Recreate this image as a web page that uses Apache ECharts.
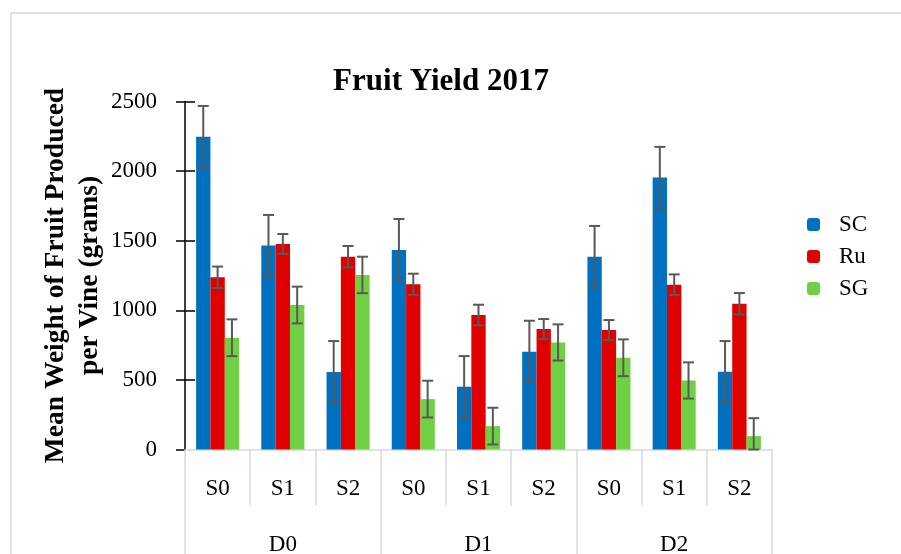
<!DOCTYPE html>
<html>
<head>
<meta charset="utf-8">
<script src="https://cdn.jsdelivr.net/npm/echarts@6/dist/echarts.min.js"></script>
<style>
  html, body { margin: 0; padding: 0; background: #fff; }
  #chart { width: 901px; height: 554px; }
</style>
</head>
<body>
<div id="chart"></div>
<script>
const subCategories = ["S0", "S1", "S2", "S0", "S1", "S2", "S0", "S1", "S2"];
const groups = ["D0", "D1", "D2"];
const seriesNames = ["SC", "Ru", "SG"];
const scValues = [2246, 1465, 556, 1433, 451, 702, 1385, 1954, 558];
const ruValues = [1237, 1477, 1385, 1187, 966, 865, 858, 1184, 1047];
const sgValues = [803, 1038, 1254, 362, 168, 769, 659, 496, 96];
const scErrors = [222, 220, 223, 223, 220, 223, 221, 220, 221];
const ruErrors = [77, 71, 77, 76, 74, 72, 72, 74, 77];
const sgErrors = [132, 132, 131, 132, 132, 130, 132, 130, 129];
const yTicks = [0, 500, 1000, 1500, 2000, 2500];

const colors = ["#0070C0", "#E00000", "#70D044"];
const values = [scValues, ruValues, sgValues];
const errors = [scErrors, ruErrors, sgErrors];
const font = "Liberation Serif";
const catGap = 0.34;

const chart = echarts.init(document.getElementById("chart"));

function errorSeries(idx) {
  return {
    type: "custom",
    xAxisIndex: 0,
    yAxisIndex: 0,
    z: 5,
    silent: true,
    data: values[idx].map((v, i) => [i, v, errors[idx][i]]),
    renderItem: (params, api) => {
      const i = api.value(0);
      const v = api.value(1);
      const e = api.value(2);
      const band = api.size([1, 0])[0];
      const barW = (band * (1 - catGap)) / 3;
      const c = api.coord([i, v]);
      const x = c[0] + (idx - 1) * barW;
      const top = api.coord([i, v + e])[1];
      const bot = api.coord([i, Math.max(v - e, 0)])[1];
      const style = { stroke: "#595959", lineWidth: 2 };
      const cap = 5.5;
      return {
        type: "group",
        children: [
          { type: "line", shape: { x1: x, y1: top, x2: x, y2: bot }, style },
          { type: "line", shape: { x1: x - cap, y1: top, x2: x + cap, y2: top }, style },
          { type: "line", shape: { x1: x - cap, y1: bot, x2: x + cap, y2: bot }, style },
        ],
      };
    },
  };
}

chart.setOption({
  animation: false,
  textStyle: { fontFamily: font },
  title: {
    text: "Fruit Yield 2017",
    left: 436,
    textAlign: "center",
    top: 61,
    textStyle: { fontFamily: font, fontWeight: "bold", fontSize: 31, color: "#000" },
  },
  graphic: [
    {
      type: "rect",
      shape: { x: 11, y: 13, width: 1000, height: 1000 },
      style: { fill: "none", stroke: "#d9d9d9", lineWidth: 1.5 },
      silent: true,
    },
  ],
  legend: {
    orient: "vertical",
    left: 802,
    top: 208,
    icon: "roundRect",
    itemWidth: 13,
    itemHeight: 13,
    itemGap: 9,
    data: seriesNames,
    textStyle: { fontFamily: font, fontSize: 23, color: "#000", padding: [0, 0, 0, 14] },
  },
  grid: { left: 185, right: 129, top: 101.5, bottom: 104.5, containLabel: false, outerBoundsMode: "none" },
  xAxis: [
    {
      type: "category",
      data: subCategories,
      position: "bottom",
      axisLine: { lineStyle: { color: "#d9d9d9", width: 1.5 } },
      axisTick: { show: true, length: 56, interval: 0, lineStyle: { color: "#d9d9d9", width: 1.5 } },
      axisLabel: { interval: 0, margin: 28, fontFamily: font, fontSize: 23, color: "#000" },
    },
    {
      type: "category",
      data: groups,
      position: "bottom",
      axisLine: { show: false },
      axisTick: { show: true, length: 110, interval: 0, lineStyle: { color: "#d9d9d9", width: 1.5 } },
      axisLabel: { interval: 0, margin: 84, fontFamily: font, fontSize: 23, color: "#000" },
    },
  ],
  yAxis: [
    {
      type: "value",
      min: 0,
      max: 2500,
      interval: 500,
      name: "Mean Weight of Fruit Produced\nper Vine (grams)",
      nameLocation: "middle",
      nameGap: 78,
      nameMoveOverlap: false,
      nameTextStyle: { fontFamily: font, fontWeight: "bold", fontSize: 27.5, color: "#000", lineHeight: 34 },
      axisLine: { show: true, lineStyle: { color: "#000", width: 1.5 } },
      axisTick: { show: true, length: 9, lineStyle: { color: "#000", width: 1.5 } },
      axisLabel: {
        margin: 28,
        fontFamily: font,
        fontSize: 23,
        color: "#000",
        formatter: (v) => (yTicks.includes(v) ? String(v) : ""),
      },
      splitLine: { show: false },
    },
    {
      type: "value",
      min: 0,
      max: 2500,
      interval: 500,
      position: "left",
      axisLine: { show: false },
      axisTick: {
        show: true,
        inside: true,
        length: 10,
        customValues: yTicks.slice(1),
        lineStyle: { color: "#000", width: 1.5 },
      },
      axisLabel: { show: false },
      splitLine: { show: false },
    },
  ],
  series: [
    ...seriesNames.map((name, idx) => ({
      name,
      type: "bar",
      xAxisIndex: 0,
      yAxisIndex: 0,
      data: values[idx],
      barGap: "0%",
      barCategoryGap: catGap * 100 + "%",
      itemStyle: { color: colors[idx] },
    })),
    ...seriesNames.map((_, idx) => errorSeries(idx)),
  ],
});
</script>
</body>
</html>
